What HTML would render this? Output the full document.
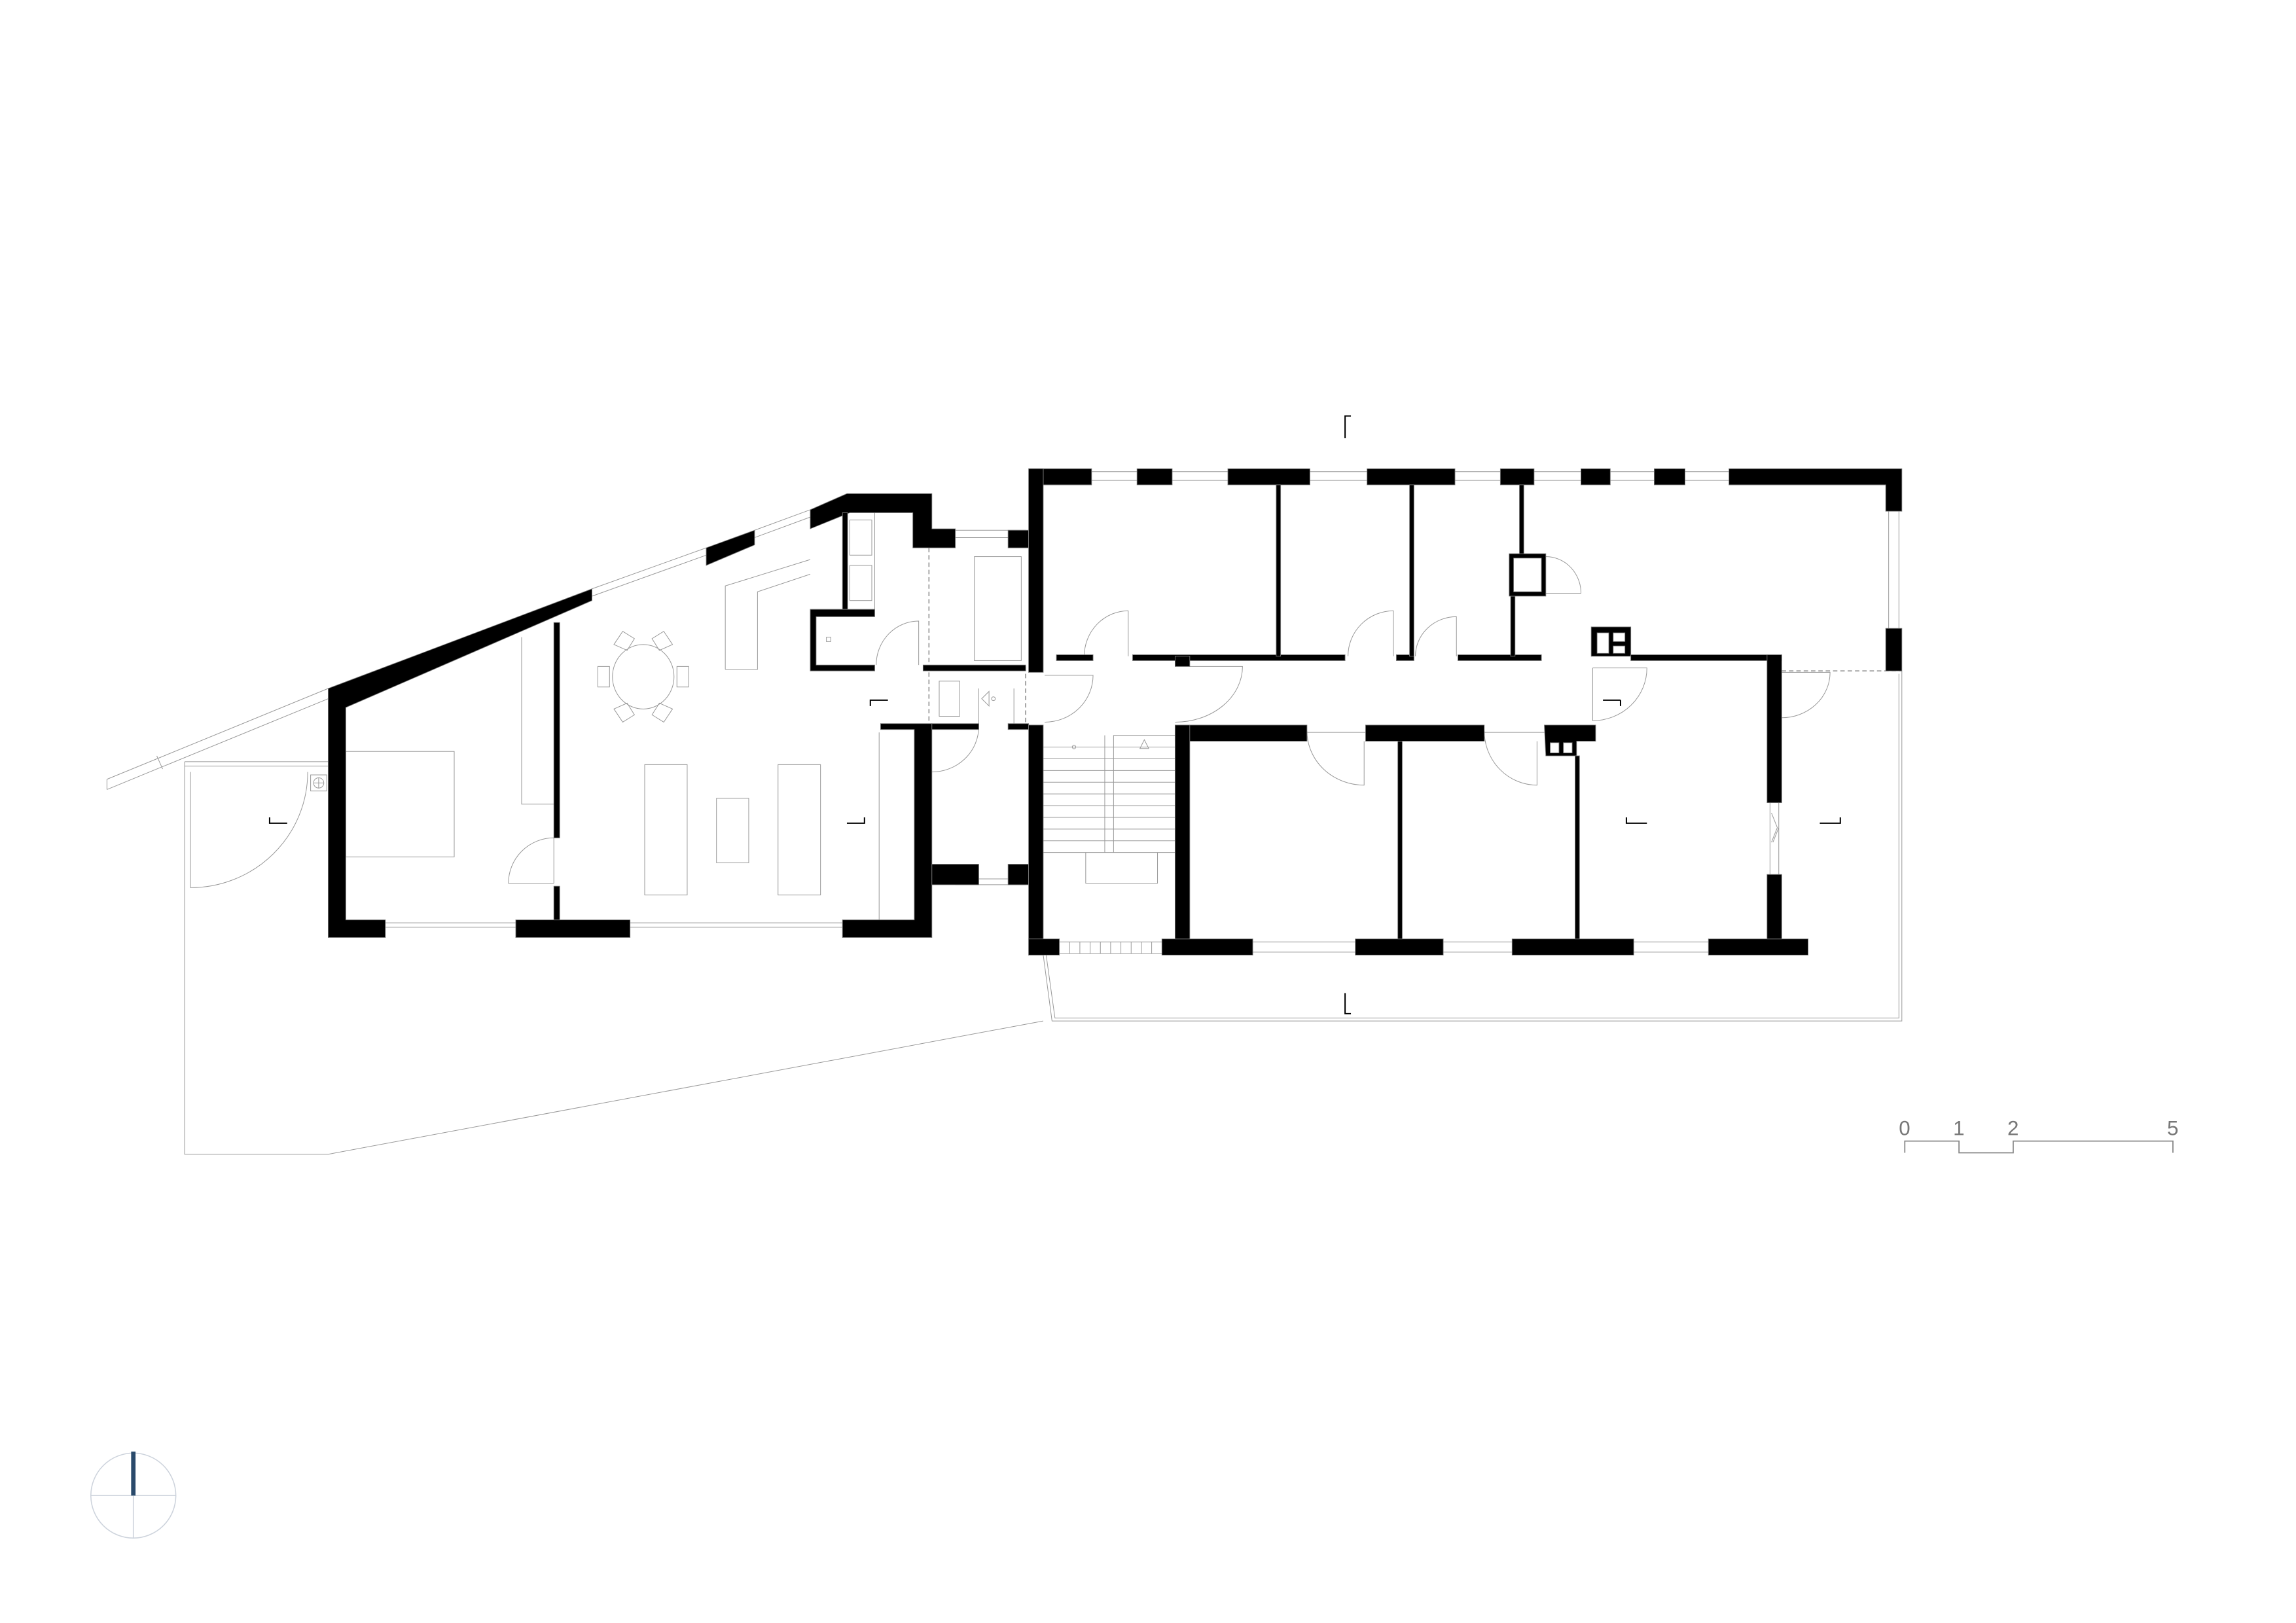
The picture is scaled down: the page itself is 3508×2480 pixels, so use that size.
<!DOCTYPE html>
<html><head><meta charset="utf-8"><style>html,body{margin:0;padding:0;background:#fff}svg{display:block}</style></head>
<body>
<svg width="3508" height="2480" viewBox="0 0 1567 1108" preserveAspectRatio="none" xmlns="http://www.w3.org/2000/svg">
<rect width="1567" height="1108" fill="#fff"/>
<g fill="none" stroke="#999" stroke-width="0.45">
<path d="M73,532 L224,470 M73,539 L107,525 L224,477 M73,532 V539 M107,516 L111,525"/>
<path d="M126,520 H224 M126,523 H224 M126,520 V788 H224 L712,697"/>
<path d="M130,527 V606 A80,79 0 0 0 210,527"/>
<rect x="212" y="529" width="11" height="11"/><circle cx="217.5" cy="534.5" r="3.5"/><path d="M214,534.5h7M217.5,531v7"/>
<path d="M712,652 L718,697 H1298 V458 M714,652 L720,695 H1296 V460"/>
<path d="M263,630 H352 M263,633 H352 M430,630 H575 M430,633 H575"/>
<path d="M404,402 L482,374 M404,407 L482,379 M515,362 L553,348 M515,367 L553,353"/>
<ellipse cx="439" cy="462" rx="21" ry="22"/>
<path d="M408,455h8v14h-8z M462,455h8v14h-8z"/>
<path d="M419,440l6,-9l8,5l-5,8z M459,440l-6,-9l-8,5l5,8z M419,484l6,9l8,-5l-5,-8z M459,484l-6,9l-8,-5l5,-8z"/>
<rect x="440" y="522" width="29" height="89"/><rect x="489" y="545" width="22" height="44"/><rect x="531" y="522" width="29" height="89"/>
<rect x="236" y="513" width="74" height="72"/>
<path d="M356,435 V549 H378"/>
<path d="M495,457 V400 L553,382 M495,457 H517 V404 L553,392"/>
<path d="M600,500 V628"/>
<rect x="580" y="355" width="15" height="24"/><rect x="580" y="386" width="15" height="24"/><path d="M597,350 V416"/>
<rect x="564" y="435" width="3" height="3"/>
<rect x="641" y="465" width="14" height="24"/>
<rect x="665" y="380" width="32" height="71"/>
<path d="M652,362 H700 M652,367 H700 M652,600 H700 M652,604 H700 M668,470 V497 M692,470 V497"/>
<path d="M670,477 l5,-5 v10z"/><circle cx="678" cy="477" r="1.3"/>
<path d="M378,603 V572 A31,31 0 0 0 347,603 H378"/>
<path d="M627,454 V424 A29,30 0 0 0 598,454"/>
<path d="M636,496 H668 A32,31 0 0 1 636,527"/>
<path d="M713,461 H746 A33,32 0 0 1 713,493"/>
<path d="M802,455 H848 A46,38 0 0 1 802,493"/>
<path d="M770,448 V417 A30,31 0 0 0 740,448"/>
<path d="M951,448 V417 A31,31 0 0 0 920,448"/>
<path d="M994,448 V421 A28,27 0 0 0 966,448"/>
<path d="M1055,405 H1079 A24,25 0 0 0 1055,380"/>
<path d="M1087,456 H1124 A37,36 0 0 1 1087,492 V456"/>
<path d="M1216,459 H1249 A33,31 0 0 1 1216,490"/>
<path d="M892,499 A39,37 0 0 0 931,536 V506"/>
<path d="M1013,499 A36,37 0 0 0 1049,536 V506"/>
<path d="M892,500 H932 M1013,500 H1054"/>
<path d="M745,322 h31 M745,328 h31 M800,322 h38 M800,328 h38 M894,322 h39 M894,328 h39 M993,322 h31 M993,328 h31 M1047,322 h32 M1047,328 h32 M1099,322 h30 M1099,328 h30 M1150,322 h30 M1150,328 h30"/>
<path d="M1289,349 V429 M1296,349 V429 M855,643 H925 M855,650 H925 M985,643 H1032 M985,650 H1032 M1115,643 H1166 M1115,650 H1166"/>
<path d="M1208,548 V597 M1214,548 V597 M1209,555 l4,10 l-4,10 M1214,565 l-4,10"/>
<path d="M712,510 H802 M712,518 H802 M712,526 H802 M712,534 H802 M712,542 H802 M712,550 H802 M712,558 H802 M712,566 H802 M712,574 H802 M712,582 H802 M754,502 V582 M760,502 V582 M760,502 H802 M741,582 V603 H790 V582"/>
<path d="M778,511 l3,-6 l3,6z"/><circle cx="733" cy="510" r="1.2"/>
<path d="M723,643 H793 M723,651 H793 M730,643v8 M737,643v8 M744,643v8 M751,643v8 M758,643v8 M765,643v8 M772,643v8 M779,643v8 M786,643v8"/>
</g>
<path d="M634,374 V500 M700,455 V495 M1216,458 H1298" stroke="#777" stroke-width="0.6" stroke-dasharray="3,2" fill="none"/>
<g fill="#000" stroke="#777" stroke-width="0.4">
<path d="M224,470 L404,402 L404,410 L236,483 V628 H263 V640 H224 Z"/>
<path d="M482,374 L515,362 L515,372 L482,386 Z"/>
<path d="M553,348 L578,337 H636 V361 H652 V374 H623 V350 H580 L553,361 Z"/>
<rect x="352" y="628" width="78" height="12"/>
<path d="M575,628 H624 V498 H601 V494 H636 V640 H575 Z"/>
<rect x="575" y="350" width="3.5" height="66"/>
<path d="M553,416 H597 V421 H557 V454 H597 V458 H553 Z"/>
<rect x="630" y="454" width="70" height="4"/>
<rect x="636" y="494" width="32" height="4"/><rect x="688" y="494" width="14" height="4"/>
<rect x="636" y="590" width="32" height="14"/><rect x="688" y="590" width="14" height="14"/>
<rect x="688" y="362" width="14" height="12"/>
<rect x="378" y="425" width="4" height="147"/><rect x="378" y="605" width="4" height="23"/>
<path d="M702,320 H745 V331 H712 V320 Z"/>
<rect x="776" y="320" width="24" height="11"/><rect x="838" y="320" width="56" height="11"/><rect x="933" y="320" width="60" height="11"/><rect x="1024" y="320" width="23" height="11"/><rect x="1079" y="320" width="20" height="11"/><rect x="1129" y="320" width="21" height="11"/>
<path d="M1180,320 H1298 V349 H1287 V331 H1180 Z"/>
<rect x="1287" y="429" width="11" height="29"/>
<rect x="702" y="320" width="10" height="139"/><rect x="702" y="495" width="10" height="157"/>
<rect x="702" y="641" width="21" height="11"/>
<rect x="793" y="641" width="62" height="11"/><rect x="925" y="641" width="60" height="11"/><rect x="1032" y="641" width="83" height="11"/><rect x="1166" y="641" width="68" height="11"/>
<rect x="721" y="447" width="25" height="4"/><rect x="773" y="447" width="145" height="4"/><rect x="953" y="447" width="12" height="4"/><rect x="995" y="447" width="57" height="4"/>
<rect x="871" y="331" width="3" height="117"/><rect x="962" y="331" width="3" height="117"/><rect x="1037" y="331" width="3" height="48"/><rect x="1031" y="407" width="3" height="41"/>
<path d="M1030,378 H1055 V407 H1030 Z M1033,381 V404 H1052 V381 Z" fill-rule="evenodd"/>
<rect x="802" y="448" width="10" height="7"/>
<path d="M1086,428 H1113 V448 H1086 Z M1090,432 V446 H1098 V432 Z M1101,432 V438 H1109 V432 Z M1101,441 V446 H1109 V441 Z" fill-rule="evenodd"/>
<rect x="1113" y="447" width="103" height="4"/>
<rect x="1206" y="447" width="10" height="101"/><rect x="1206" y="597" width="10" height="44"/>
<rect x="802" y="495" width="90" height="11"/><rect x="932" y="495" width="81" height="11"/>
<path d="M1054,495 H1089 V506 H1076 V516 H1055 Z M1058,507 V514 H1064 V507 Z M1067,507 V514 H1073 V507 Z" fill-rule="evenodd"/>
<rect x="802" y="495" width="10" height="146"/>
<rect x="954" y="506" width="3" height="135"/><rect x="1075" y="516" width="3" height="125"/>
</g>
<g stroke="#000" stroke-width="0.9" fill="none">
<path d="M918,299 V284 H922"/><path d="M918,678 V692 H922"/>
<path d="M184,558 V562 H196"/><path d="M590,558 V562 H578"/>
<path d="M594,482 V478 H606"/><path d="M1106,478 H1094"/><path d="M1106,478 V482"/>
<path d="M1110,558 V562 H1124"/><path d="M1256,558 V562 H1242"/>
</g>
<g font-family="Liberation Sans, sans-serif" font-size="14" fill="#777">
<text x="1296" y="775">0</text><text x="1333" y="775">1</text><text x="1370" y="775">2</text><text x="1479" y="775">5</text>
</g>
<path d="M1300,787 V779 H1337 V787 H1374 V779 H1483 V787" stroke="#888" stroke-width="0.8" fill="none"/>
<g stroke="#cdd3dc" stroke-width="0.7" fill="none">
<circle cx="91" cy="1021" r="29"/><path d="M62,1021 H120 M91,1021 V1050"/>
</g>
<rect x="89.5" y="991" width="3" height="30" fill="#2a4a6b"/>
</svg>
</body></html>
